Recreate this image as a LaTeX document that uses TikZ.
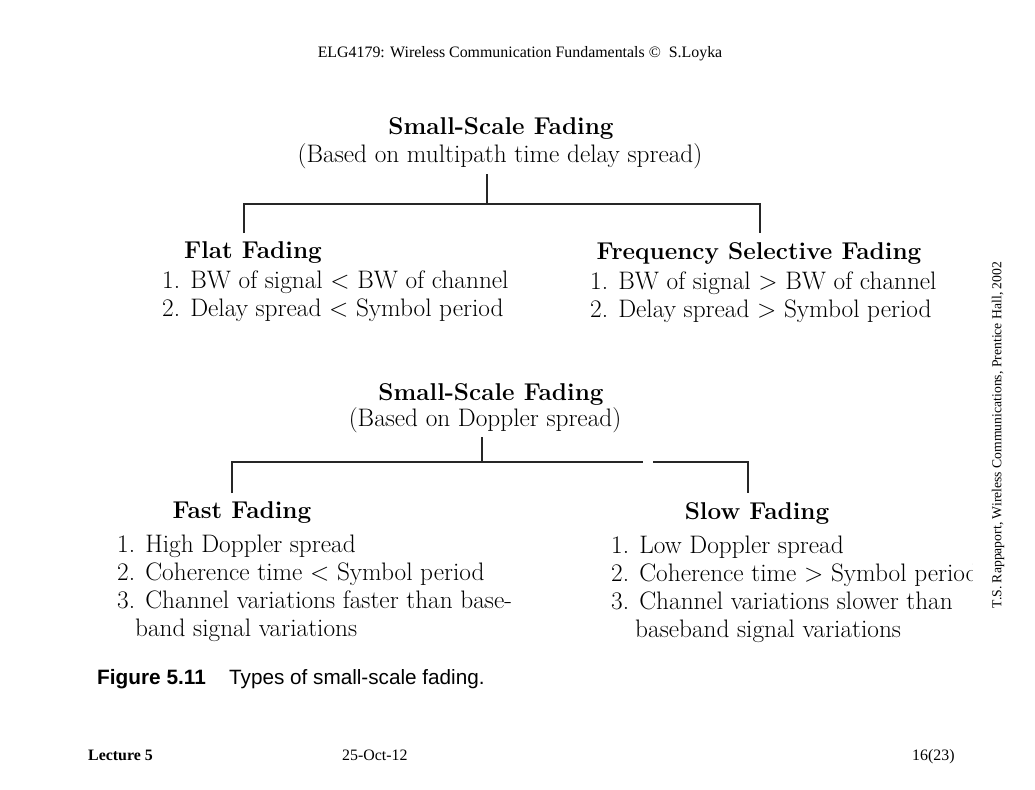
\documentclass[tikz,border=0pt]{standalone}
\usepackage{fontspec}
\newfontfamily\timesf{Liberation Serif}
\newfontfamily\arialf{Liberation Sans}
\begin{document}
\begin{tikzpicture}[x=1pt,y=-1pt,
  body/.style={inner sep=0pt, font=\fontsize{25.3}{28}\selectfont},
  li/.style={body, anchor=base west},
  ttl/.style={inner sep=0pt, anchor=base, font=\bfseries\fontsize{24.3}{28}\selectfont},
  sub/.style={body, anchor=base},
  tms/.style={inner sep=0pt, anchor=base west, font=\timesf\fontsize{15.9}{18}\selectfont},
  conn/.style={line width=1.1pt, draw=black!85}]
\useasboundingbox[fill=white] (0,0) rectangle (1035,789);
% header
\node[tms, anchor=base] (hdr) at (520,58) {ELG4179: Wireless Communication Fundamentals \textcopyright\ \ S.Loyka};
% first tree
\node[ttl] (t1) at (501,134) {Small-Scale Fading};
\node[sub] (t1s) at (500,162) {(Based on multipath time delay spread)};
\coordinate (s1) at (487,174);
\coordinate (j1) at (487,204);
\coordinate (a1) at (244,204);
\coordinate (a1b) at (244,233);
\coordinate (b1) at (760,204);
\coordinate (b1b) at (760,233);
\draw[conn] (s1) -- (j1);
\draw[conn] (a1b) -- (a1) -- (b1) -- (b1b);
\node[ttl] (flat) at (253,258) {Flat Fading};
\node[li] (fl1) at (162,288) {1. BW of signal < BW of channel};
\node[li] (fl2) at (162,316) {2. Delay spread < Symbol period};
\node[ttl] (fsel) at (759,259) {Frequency Selective Fading};
\node[li] (fs1) at (590,289) {1. BW of signal > BW of channel};
\node[li] (fs2) at (590,317) {2. Delay spread > Symbol period};
% second tree
\node[ttl] (t2) at (491,400) {Small-Scale Fading};
\node[sub] (t2s) at (485,426) {(Based on Doppler spread)};
\coordinate (s2) at (482,437);
\coordinate (j2) at (482,462);
\coordinate (a2) at (232,462);
\coordinate (a2b) at (232,493);
\coordinate (g1) at (643,462);
\coordinate (g2) at (653,462);
\coordinate (b2) at (748,462);
\coordinate (b2b) at (748,493);
\draw[conn] (s2) -- (j2);
\draw[conn] (a2b) -- (a2) -- (g1);
\draw[conn] (g2) -- (b2) -- (b2b);
\node[ttl] (fast) at (242,518) {Fast Fading};
\node[li] (fa1) at (117,552) {1. High Doppler spread};
\node[li] (fa2) at (117,580) {2. Coherence time < Symbol period};
\node[li] (fa3) at (117,608) {3. Channel variations faster than base-};
\node[li] (fa4) at (135,636) {band signal variations};
\node[ttl] (slow) at (757,519) {Slow Fading};
\node[li] (sl1) at (611,553) {1. Low Doppler spread};
\begin{scope}
\clip (0,0) rectangle (972,789);
\node[li] (sl2) at (611,581) {2. Coherence time > Symbol period};
\end{scope}
\node[li] (sl3) at (611,609) {3. Channel variations slower than};
\node[li] (sl4) at (635,637) {baseband signal variations};
% caption
\node[inner sep=0pt, anchor=base west, font=\arialf\bfseries\fontsize{20.8}{24}\selectfont] (fig) at (97,684) {Figure 5.11};
\node[inner sep=0pt, anchor=base west, font=\arialf\fontsize{20.7}{24}\selectfont] (cap) at (229,684) {Types of small-scale fading.};
% footer
\node[tms, font=\timesf\bfseries\fontsize{15.9}{18}\selectfont] (lec) at (88,760) {Lecture 5};
\node[tms] (date) at (342,760) {25-Oct-12};
\node[tms] (pg) at (912,760) {16(23)};
% side note
\node[inner sep=0pt, rotate=90, font=\timesf\fontsize{13.7}{16}\selectfont] (src) at (998,435) {T.S. Rappaport, Wireless Communications, Prentice Hall, 2002};
\end{tikzpicture}
\end{document}
